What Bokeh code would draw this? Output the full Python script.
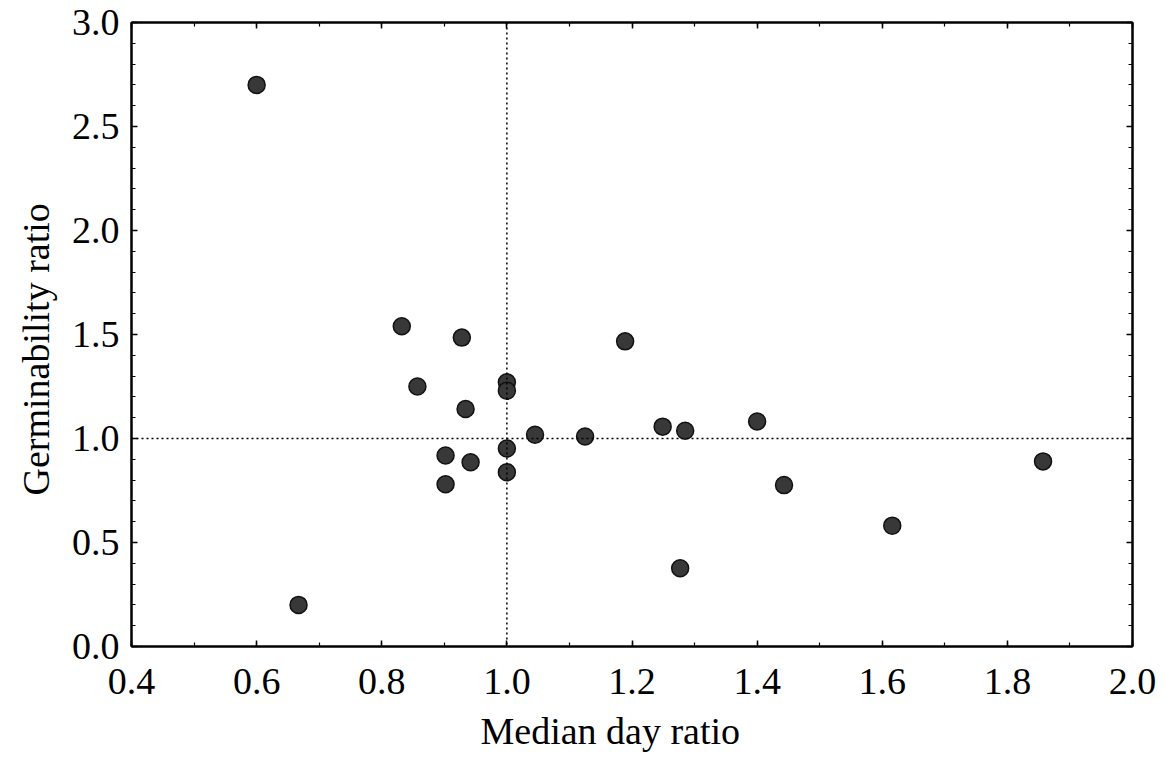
from bokeh.plotting import figure
from bokeh.models import (LinearAxis, Span, Range1d, SingleIntervalTicker,
                          PrintfTickFormatter, CustomJSTickFormatter, Title)
from bokeh.embed import file_html
from bokeh.resources import INLINE

# ---- data ----
median_day_ratio = [0.600, 0.667, 0.832, 0.857, 0.928, 0.934, 0.902, 0.902, 0.942,
                    1.000, 1.000, 1.000, 1.000, 1.045, 1.125, 1.189, 1.249, 1.285,
                    1.277, 1.400, 1.443, 1.616, 1.857]
germinability_ratio = [2.70, 0.20, 1.54, 1.25, 1.485, 1.142, 0.918, 0.78, 0.886,
                       1.27, 1.23, 0.952, 0.838, 1.018, 1.01, 1.467, 1.057, 1.037,
                       0.376, 1.082, 0.776, 0.581, 0.89]
x_range_vals = (0.4, 2.0)
y_range_vals = (0.0, 3.0)
ref_x = 1.0
ref_y = 1.0
x_label = "Median day ratio"
y_label = "Germinability ratio"

FONT = "Liberation Serif"

p = figure(width=1160, height=762, output_backend="svg", toolbar_location=None,
           x_range=Range1d(*x_range_vals), y_range=Range1d(*y_range_vals),
           min_border_left=131, min_border_right=28, min_border_top=22,
           min_border_bottom=116, x_axis_location=None, y_axis_location=None)
p.xgrid.visible = False
p.ygrid.visible = False
p.outline_line_color = "black"
p.outline_line_width = 2
p.background_fill_color = "white"
p.border_fill_color = "white"

xticker = SingleIntervalTicker(interval=0.2, num_minor_ticks=2)
yticker = SingleIntervalTicker(interval=0.5, num_minor_ticks=5)


def style(ax, labels=True):
    ax.axis_line_color = "black"
    ax.axis_line_width = 2
    ax.major_tick_in = 6
    ax.major_tick_out = 0
    ax.minor_tick_in = 4
    ax.minor_tick_out = 0
    ax.major_tick_line_color = "black"
    ax.minor_tick_line_color = "black"
    ax.major_tick_line_width = 1.5
    ax.minor_tick_line_width = 1.2
    ax.major_label_text_font = FONT
    ax.major_label_text_font_size = "38px"
    ax.major_label_text_color = "black"
    if labels:
        ax.formatter = PrintfTickFormatter(format="%.1f")
    else:
        ax.formatter = CustomJSTickFormatter(code="return ''")
        ax.major_label_standoff = 0


xb = LinearAxis(ticker=xticker)
style(xb)
xb.major_label_standoff = 22
p.add_layout(xb, "below")

yl = LinearAxis(ticker=yticker)
style(yl)
yl.major_label_standoff = 12
p.add_layout(yl, "left")

xt = LinearAxis(ticker=xticker)
style(xt, labels=False)
p.add_layout(xt, "above")

yr = LinearAxis(ticker=yticker)
style(yr, labels=False)
p.add_layout(yr, "right")

# axis titles (placed slightly off-centre, as in the reference)
xtitle = Title(text=x_label, align="left", offset=349, standoff=22,
               text_font=FONT, text_font_size="38px", text_font_style="normal",
               text_color="black")
p.add_layout(xtitle, "below")
ytitle = Title(text=y_label, align="left", offset=151, standoff=24,
               text_font=FONT, text_font_size="38px", text_font_style="normal",
               text_color="black")
p.add_layout(ytitle, "left")

p.add_layout(Span(location=ref_x, dimension="height", line_color="black",
                  line_width=1.5, line_dash="2 3"))
p.add_layout(Span(location=ref_y, dimension="width", line_color="black",
                  line_width=1.5, line_dash="2 3"))

p.scatter(median_day_ratio, germinability_ratio, size=17, marker="circle",
          fill_color="#383838", line_color="#111111", line_width=1.5)

open("out.html", "w").write(file_html(p, INLINE))
